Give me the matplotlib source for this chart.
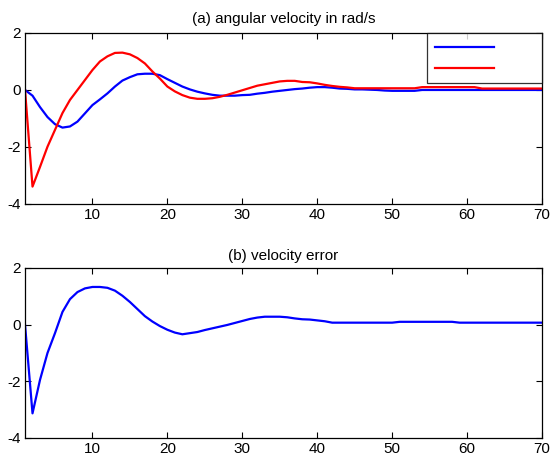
import matplotlib
matplotlib.use("Agg")
import matplotlib.pyplot as plt
import numpy as np

plt.rcParams['font.family'] = ['Liberation Sans', 'DejaVu Sans']
plt.rcParams['axes.unicode_minus'] = False

# time steps
steps = np.arange(1, 71)

# (a) angular velocity, two responses (rad/s)
omega_blue = [0.0, -0.2, -0.6, -0.95, -1.2, -1.32, -1.28, -1.11, -0.82, -0.53,
              -0.33, -0.12, 0.12, 0.33, 0.45, 0.55, 0.57, 0.57, 0.52, 0.38,
              0.25, 0.12, 0.02, -0.06, -0.12, -0.17, -0.2, -0.2, -0.2, -0.18,
              -0.17, -0.13, -0.1, -0.06, -0.03, 0.0, 0.03, 0.05, 0.08, 0.1,
              0.1, 0.08, 0.05, 0.04, 0.02, 0.02, 0.01, 0.0, -0.02, -0.03,
              -0.03, -0.03, -0.03, 0.0, 0.0, 0.0, 0.0, 0.0, 0.0, 0.0,
              0.0, 0.0, 0.0, 0.0, 0.0, 0.0, 0.0, 0.0, 0.0, 0.0]
omega_red = [0.0, -3.39, -2.7, -1.99, -1.4, -0.81, -0.35, 0.0, 0.35, 0.7,
             1.0, 1.18, 1.3, 1.31, 1.25, 1.12, 0.93, 0.65, 0.4, 0.12,
             -0.05, -0.18, -0.27, -0.31, -0.31, -0.29, -0.24, -0.17, -0.09, -0.01,
             0.07, 0.15, 0.2, 0.25, 0.3, 0.32, 0.32, 0.28, 0.27, 0.23,
             0.18, 0.14, 0.11, 0.09, 0.06, 0.06, 0.06, 0.06, 0.06, 0.06,
             0.06, 0.06, 0.06, 0.1, 0.1, 0.1, 0.1, 0.1, 0.1, 0.1,
             0.1, 0.05, 0.05, 0.05, 0.05, 0.05, 0.05, 0.05, 0.05, 0.05]

# (b) velocity error
vel_error = [0.0, -3.13, -1.95, -1.0, -0.3, 0.45, 0.9, 1.15, 1.28, 1.33,
             1.33, 1.3, 1.2, 1.02, 0.8, 0.55, 0.3, 0.11, -0.05, -0.18,
             -0.28, -0.34, -0.3, -0.26, -0.19, -0.13, -0.07, -0.01, 0.06, 0.13,
             0.2, 0.25, 0.28, 0.28, 0.28, 0.26, 0.22, 0.19, 0.18, 0.15,
             0.12, 0.07, 0.07, 0.07, 0.07, 0.07, 0.07, 0.07, 0.07, 0.07,
             0.1, 0.1, 0.1, 0.1, 0.1, 0.1, 0.1, 0.1, 0.07, 0.07,
             0.07, 0.07, 0.07, 0.07, 0.07, 0.07, 0.07, 0.07, 0.07, 0.07]

x_ticks = [10, 20, 30, 40, 50, 60, 70]
y_ticks = [-4, -2, 0, 2]

fig = plt.figure(figsize=(5.51, 4.61), dpi=100)
ax1 = fig.add_axes([0.0454, 0.5575, 0.9383, 0.3710])
ax2 = fig.add_axes([0.0454, 0.0499, 0.9383, 0.3688])


def style(ax, title, pad):
    ax.set_xlim(1, 70)
    ax.set_ylim(-4, 2)
    ax.set_xticks(x_ticks)
    ax.set_yticks(y_ticks)
    ax.tick_params(direction='in', length=4, width=0.8, top=True, right=True,
                   labelsize=11, pad=3, colors='black')
    for sp in ax.spines.values():
        sp.set_linewidth(0.9)
    ax.set_title(title, fontsize=11, pad=pad)


l1, = ax1.plot(steps, omega_blue, color='#0000ff', lw=1.6)
l2, = ax1.plot(steps, omega_red, color='#ff0000', lw=1.6)
style(ax1, '(a) angular velocity in rad/s', 7.5)
leg = ax1.legend([l1, l2], [' ', ' '], loc='upper right', fontsize=10,
                 frameon=True, fancybox=False, edgecolor='black',
                 borderaxespad=0, borderpad=0.55, handlelength=4.3,
                 handletextpad=2.6, labelspacing=0.5)
leg.get_frame().set_linewidth(0.9)

ax2.plot(steps, vel_error, color='#0000ff', lw=1.6)
style(ax2, '(b) velocity error', 6)

fig.savefig('out.png', dpi=100)
